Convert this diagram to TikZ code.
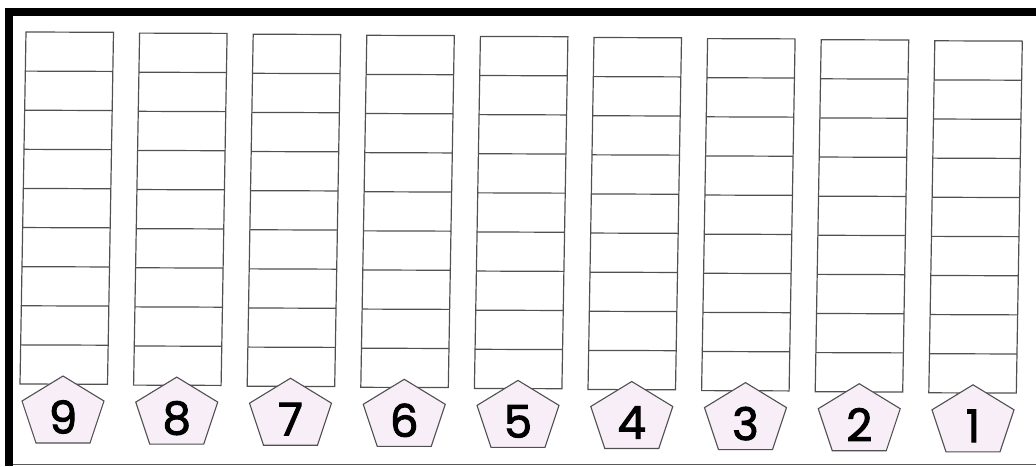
\documentclass[tikz,border=0pt]{standalone}
\usepackage{fontspec}
\setmainfont{Poppins}
\newfontfamily\numfont{Poppins}[FakeBold=2.2]
\usetikzlibrary{calc}
\definecolor{gridline}{HTML}{505050}
\definecolor{pentfill}{HTML}{F7EEF7}
\tikzset{
  cellline/.style={draw=gridline, line width=1.2pt},
  pentagon/.style={draw=gridline, line width=1.1pt, fill=pentfill, line join=miter},
  numlabel/.style={font=\numfont\fontsize{45}{45}\selectfont, text=black, inner sep=0pt},
}
\begin{document}
\begin{tikzpicture}[x=1pt,y=-1pt]
\useasboundingbox (0,0) rectangle (1036,466);
\fill[white] (0,0) rectangle (1036,466);
% frame
\fill[black] (5,8) rectangle (13,466);
\fill[black] (5,8) rectangle (1036,16);
\draw[gray!70!black, line width=1.5pt] (13,464.5) -- (1036,464.5);
% columns
\foreach \i [evaluate=\i as \xt using 26+\i*113.6,
             evaluate=\i as \xb using 20+\i*113.6,
             evaluate=\i as \yt using 32+\i*1.1,
             evaluate=\i as \yb using 384+\i*1.1] in {0,...,8}{
  \coordinate (TL\i) at (\xt,\yt);
  \coordinate (TR\i) at (\xt+87.5,\yt+0.3);
  \coordinate (BL\i) at (\xb,\yb);
  \coordinate (BR\i) at (\xb+87.5,\yb+0.3);
  \draw[cellline] (TL\i) -- (TR\i) -- (BR\i) -- (BL\i) -- cycle;
  \foreach \k in {1,...,8}{
    \draw[cellline] ($(TL\i)!\k/9!(BL\i)$) -- ($(TR\i)!\k/9!(BR\i)$);
  }
}
% pentagons with numbers
\foreach \i/\n in {0/9,1/8,2/7,3/6,4/5,5/4,6/3,7/2,8/1}{
  \pgfmathsetmacro{\cx}{63+\i*113.75}
  \pgfmathsetmacro{\cy}{413+\i*1.1}
  \coordinate (P\i) at (\cx,\cy);
  \draw[pentagon] ($(P\i)+(0,-37)$) -- ($(P\i)+(41,-12)$) -- ($(P\i)+(27,30)$)
     -- ($(P\i)+(-27,30)$) -- ($(P\i)+(-41,-12)$) -- cycle;
  \node[numlabel] (N\n) at ($(P\i)+(0,4)$) {\n};
}
\end{tikzpicture}
\end{document}
